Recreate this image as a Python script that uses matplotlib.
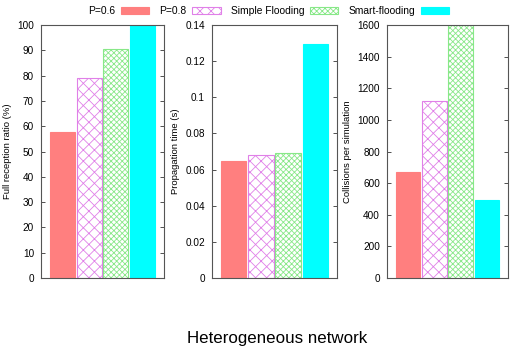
import matplotlib
matplotlib.use("Agg")
import matplotlib.pyplot as plt
from matplotlib.patches import Patch

plt.rcParams['font.family'] = ['Liberation Sans', 'DejaVu Sans']
plt.rcParams['hatch.linewidth'] = 0.6

series = ["P=0.6", "P=0.8", "Simple Flooding", "Smart-flooding"]
reception = [57.8, 79.0, 90.5, 100.0]
propagation = [0.0646, 0.0678, 0.0693, 0.1293]
collisions = [673, 1119, 1600, 492]

ylabels = ["Full reception ratio (%)", "Propagation time (s)", "Collisions per simulation"]
ylims = [(0, 100), (0, 0.14), (0, 1600)]
yticks = [[0, 10, 20, 30, 40, 50, 60, 70, 80, 90, 100],
          [0, 0.02, 0.04, 0.06, 0.08, 0.1, 0.12, 0.14],
          [0, 200, 400, 600, 800, 1000, 1200, 1400, 1600]]
yticklabels = [[str(v) for v in yticks[0]],
               ["0", "0.02", "0.04", "0.06", "0.08", "0.1", "0.12", "0.14"],
               [str(v) for v in yticks[2]]]
title = "Heterogeneous network"

styles = [
    dict(facecolor="#ff7f7f", edgecolor="#ff7f7f", hatch=None),
    dict(facecolor="white", edgecolor="#e080e8", hatch="xxx"),
    dict(facecolor="white", edgecolor="#88e888", hatch="xxxxxx"),
    dict(facecolor="#00ffff", edgecolor="#00ffff", hatch=None),
]

fig = plt.figure(figsize=(5.12, 3.51), dpi=100)
positions = [(41, 123), (212, 125), (387, 121)]
data = [reception, propagation, collisions]
bottom = (351 - 278) / 351
height = (278 - 25) / 351
for k, (x0, w) in enumerate(positions):
    ax = fig.add_axes([x0 / 512, bottom, w / 512, height])
    for i, v in enumerate(data[k]):
        st = styles[i]
        ax.bar(i, v, width=0.93, facecolor=st["facecolor"], edgecolor=st["edgecolor"],
               hatch=st["hatch"], linewidth=0.8)
    ax.set_xlim(-0.8, 3.8)
    ax.set_ylim(*ylims[k])
    ax.set_yticks(yticks[k])
    ax.set_yticklabels(yticklabels[k])
    ax.set_xticks([])
    ax.tick_params(axis='y', direction='in', right=True, length=3, width=0.6,
                   labelsize=7.2, pad=5, colors='#333333', labelcolor='black')
    for s in ax.spines.values():
        s.set_color('#555555')
        s.set_linewidth(0.8)
    ax.set_ylabel(ylabels[k], fontsize=6.8, labelpad=4)

handles = [Patch(facecolor=st["facecolor"], edgecolor=st["edgecolor"], hatch=st["hatch"], linewidth=0.8)
           for st in styles]
fig.legend(handles, series, loc='center', bbox_to_anchor=(0.525, 1 - 11 / 351), ncol=4,
           frameon=False, markerfirst=False, fontsize=7.4, handlelength=2.8, handleheight=0.6,
           columnspacing=1.0, handletextpad=0.5)

fig.text(277 / 512, 1 - 339 / 351, title, ha='center', va='center', fontsize=12.2)
fig.savefig("out.png", dpi=100)
